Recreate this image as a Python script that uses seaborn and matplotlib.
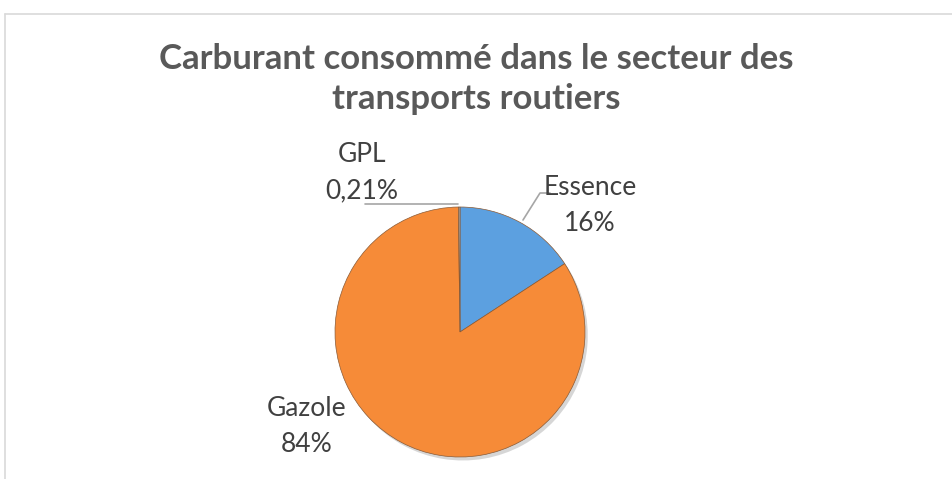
import seaborn as sns
import matplotlib.pyplot as plt

# Data
categories = ["Essence", "Gazole", "GPL"]
values = [15.8, 84.0, 0.21]
pct_labels = ["16%", "84%", "0,21%"]
colors = ["#5CA0E0", "#F68B38", "#A5A5A5"]

title_lines = ["Carburant consommé dans le secteur des", "transports routiers"]

# Layout (pixel coords, y measured from top)
W, H = 952, 479
cx, cy, r = 460, 332, 125
label_pos = {"Essence": (590, 195), "Gazole": (307, 416), "GPL": (362, 162)}
line_gap = 36

sns.set_theme(style="white")
plt.rcParams['font.family'] = ['Lato', 'DejaVu Sans']

fig = plt.figure(figsize=(W / 100, H / 100), dpi=100)
ax = fig.add_axes([0, 0, 1, 1])

# chart border (partially cropped)
ax.plot([5, W], [H - 14, H - 14], color="#d9d9d9", lw=1.2)
ax.plot([5, 5], [H - 14, 0], color="#d9d9d9", lw=1.2)

# pie
ax.pie(values, colors=colors, startangle=90, counterclock=False,
       center=(cx, H - cy), radius=r, frame=True,
       wedgeprops=dict(edgecolor="#8a5a35", linewidth=0.5),
       shadow={'ox': 2, 'oy': -2.5, 'facecolor': '#9a9a9a', 'edgecolor': 'none', 'alpha': 0.4})
ax.set_xlim(0, W)
ax.set_ylim(0, H)
ax.set_aspect('equal')
ax.axis('off')

# leader lines
ax.plot([365, 458], [H - 204, H - 204], color="#A6A6A6", lw=1.2)
ax.plot([523, 540, 550], [H - 220, H - 193, H - 193], color="#A6A6A6", lw=1.2)

# labels
for cat, pct in zip(categories, pct_labels):
    x, y = label_pos[cat]
    ax.text(x, H - y, cat, ha='center', va='baseline', fontsize=19, color="#404040")
    ax.text(x, H - y - line_gap, pct, ha='center', va='baseline', fontsize=19, color="#404040")

# title
ax.text(476, H - 69, title_lines[0], ha='center', va='baseline',
        fontsize=25, fontweight='bold', color="#595959")
ax.text(476, H - 109, title_lines[1], ha='center', va='baseline',
        fontsize=25, fontweight='bold', color="#595959")

plt.savefig("out.png", dpi=100)
